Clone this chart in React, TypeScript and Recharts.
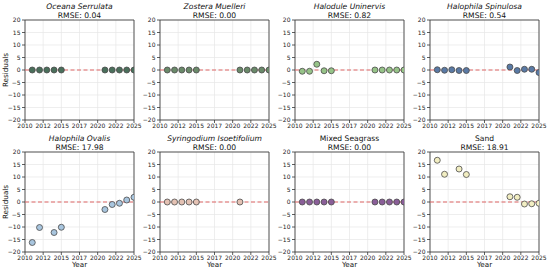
import React from 'react';
import {
  ScatterChart, Scatter, XAxis, YAxis, CartesianGrid, ReferenceLine, ReferenceArea,
} from 'recharts';

const years = [2011, 2012, 2013, 2014, 2015, 2021, 2022, 2023, 2024, 2025];

const oceanaSerrulata = [0, 0, 0, 0, 0, 0, 0, 0, 0, 0];
const zosteraMuelleri = [0, 0, 0, 0, 0, 0, 0, 0, 0, 0];
const haloduleUninervis = [-0.5, -0.5, 2.3, -0.3, -0.3, 0, 0, 0, 0, 0];
const halophilaSpinulosa = [0.1, -0.1, 0.1, -0.2, -0.2, 1.2, -0.2, 0.3, 0.3, -1.0];
const halophilaOvalis = [-16.2, -10.2, null, -12.2, -10.1, -3.0, -1.0, -0.5, 0.8, 1.9];
const syringodiumIsoetifolium = [0, 0, 0, 0, 0, 0, null, null, null, null];
const mixedSeagrass = [0, 0, 0, 0, 0, 0, 0, 0, 0, 0];
const sand = [16.7, 11.1, null, 13.2, 11.0, 2.1, 1.9, -0.8, -0.7, -0.5];

const titles = [
  'Oceana Serrulata', 'Zostera Muelleri', 'Halodule Uninervis', 'Halophila Spinulosa',
  'Halophila Ovalis', 'Syringodium Isoetifolium', 'Mixed Seagrass', 'Sand',
];
const italicTitles = [true, true, true, true, true, true, false, false];
const rmse = ['0.04', '0.00', '0.82', '0.54', '17.98', '0.00', '0.00', '18.91'];
const colors = ['#4a6f5b', '#6a8a6a', '#96c388', '#5a7aa5', '#a8c5de', '#e4c2b4', '#8a5e98', '#f2eec2'];
const seriesList = [
  oceanaSerrulata, zosteraMuelleri, haloduleUninervis, halophilaSpinulosa,
  halophilaOvalis, syringodiumIsoetifolium, mixedSeagrass, sand,
];

const xTicks = [2010, 2012.5, 2015, 2017.5, 2020, 2022.5, 2025];
const yTicks = [-20, -15, -10, -5, 0, 5, 10, 15, 20];

const FONT = 'DejaVu Sans, sans-serif';
const PLOT_W = 109;
const PLOT_H = 100;
const COL_STEP = 135;
const ROW_TOPS = [20, 152];

function Panel({ idx }: { idx: number }) {
  const col = idx % 4;
  const row = Math.floor(idx / 4);
  const plotLeft = 25 + COL_STEP * col;
  const plotTop = ROW_TOPS[row];
  const data = years
    .map((y, i) => ({ year: y, value: seriesList[idx][i] }))
    .filter((d) => d.value !== null);
  const color = colors[idx];
  const chartW = 150;
  const chartH = 135;
  return (
    <>
      <div
        style={{
          position: 'absolute', left: plotLeft - 20, width: PLOT_W + 40, top: plotTop - 18.5,
          textAlign: 'center', fontFamily: FONT, fontSize: 7.6, lineHeight: '9px', color: '#111',
          whiteSpace: 'nowrap',
        }}
      >
        <div style={{ fontStyle: italicTitles[idx] ? 'italic' : 'normal' }}>{titles[idx]}</div>
        <div>RMSE: {rmse[idx]}</div>
      </div>
      <div style={{ position: 'absolute', left: plotLeft - 25, top: plotTop - 20 }}>
        <ScatterChart
          width={chartW}
          height={chartH}
          margin={{ top: 20, right: chartW - 25 - PLOT_W, bottom: chartH - 20 - PLOT_H - 12, left: 0 }}
        >
          <CartesianGrid stroke="#e6e6e6" strokeWidth={0.7} />
          <XAxis
            type="number"
            dataKey="year"
            domain={[2010, 2025]}
            ticks={xTicks}
            interval={0}
            height={12}
            tickSize={3}
            tickMargin={1}
            axisLine={false}
            tickLine={{ stroke: '#333', strokeWidth: 0.8 }}
            tick={{ fontSize: 6, fontFamily: FONT, fill: '#222' }}
            tickFormatter={(v: number) => String(Math.floor(v))}
            allowDataOverflow
          />
          <YAxis
            type="number"
            dataKey="value"
            domain={[-20, 20]}
            ticks={yTicks}
            interval={0}
            width={25}
            tickSize={3}
            tickMargin={1.5}
            axisLine={false}
            tickLine={{ stroke: '#333', strokeWidth: 0.8 }}
            tick={{ fontSize: 6, fontFamily: FONT, fill: '#222' }}
            tickFormatter={(v: number) => String(v).replace('-', '\u2212')}
            allowDataOverflow
          />
          <ReferenceLine y={0} stroke="#e06666" strokeWidth={1} strokeDasharray="4 2.5" ifOverflow="visible" />
          <Scatter
            data={data}
            isAnimationActive={false}
            shape={(p: any) => (
              <circle cx={p.cx} cy={p.cy} r={3} fill={color} stroke="#4a4a4a" strokeWidth={0.8} />
            )}
          />
          <ReferenceArea
            x1={2010}
            x2={2025}
            y1={-20}
            y2={20}
            fill="none"
            fillOpacity={0}
            stroke="#444"
            strokeWidth={0.9}
            ifOverflow="visible"
          />
        </ScatterChart>
      </div>
      {row === 1 && (
        <div
          style={{
            position: 'absolute', left: plotLeft, width: PLOT_W, top: 260, textAlign: 'center',
            fontFamily: FONT, fontSize: 7.2, lineHeight: '10px', color: '#111',
          }}
        >
          Year
        </div>
      )}
      {col === 0 && (
        <div
          style={{
            position: 'absolute', left: 6 - 30, top: plotTop + PLOT_H / 2 - 5, width: 60, height: 10,
            textAlign: 'center', fontFamily: FONT, fontSize: 7.2, lineHeight: '10px', color: '#111',
            transform: 'rotate(-90deg)',
          }}
        >
          Residuals
        </div>
      )}
    </>
  );
}

export default function App() {
  return (
    <div
      style={{
        position: 'absolute', left: 0, top: 0, width: 550, height: 271, background: '#fff', overflow: 'hidden',
      }}
    >
      {[0, 1, 2, 3, 4, 5, 6, 7].map((i) => (
        <Panel key={i} idx={i} />
      ))}
    </div>
  );
}
